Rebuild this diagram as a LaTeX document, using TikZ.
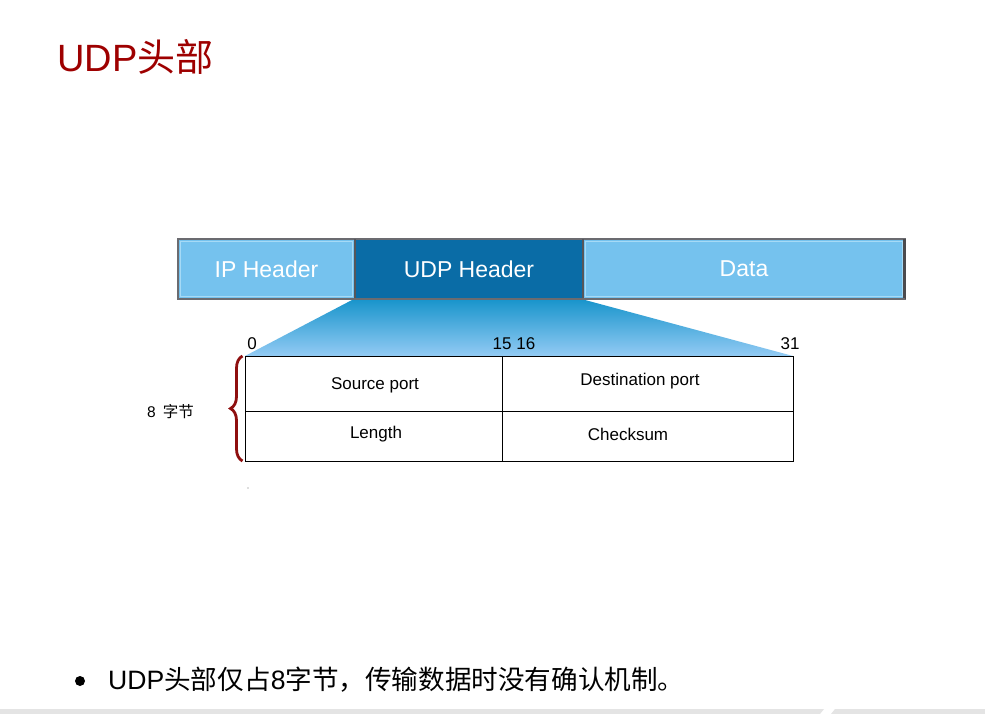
\documentclass[tikz,border=0pt]{standalone}
\usepackage{fontspec}
\setmainfont{Liberation Sans}
\newfontfamily\cjk{Noto Sans CJK SC}
\usetikzlibrary{decorations.pathreplacing}
\definecolor{titlered}{HTML}{9E0000}
\definecolor{lightblue}{HTML}{75C2EE}
\definecolor{darkblue}{HTML}{0A6CA6}
\definecolor{barframe}{HTML}{6B6B70}
\definecolor{highlight}{HTML}{A6DAF6}
\definecolor{zoomtop}{HTML}{1A95CC}
\definecolor{zoombottom}{HTML}{93CBF4}
\definecolor{bracered}{HTML}{8E0F0F}
\definecolor{footgray}{HTML}{E4E4E4}

\begin{document}
\begin{tikzpicture}[x=1pt,y=-1pt,
  field/.style={rectangle, inner sep=0pt, outer sep=0pt, draw=barframe, line width=2pt,
    minimum height=60pt, font=\fontsize{23}{26}\selectfont, text=white},
  cell/.style={rectangle, draw=black, line width=0.9pt, inner sep=0pt, outer sep=0pt},
  celltext/.style={font=\fontsize{17}{20}\selectfont, inner sep=0pt},
  bitno/.style={font=\fontsize{17}{20}\selectfont, inner sep=0pt, anchor=base},
  inset/.style={draw=highlight, line width=1pt},
]
\useasboundingbox (0,0) rectangle (985,714);
\fill[white] (0,0) rectangle (985,714);

% title
\node[anchor=base west, inner sep=0pt, text=titlered, font=\fontsize{38}{42}\selectfont]
  (title) at (57,72) {UDP{\cjk 头部}};

% header layout table
\node[cell, minimum width=257pt, minimum height=55pt] (src) at (373.5,383.5) {};
\node[cell, minimum width=291pt, minimum height=55pt] (dst) at (647.5,383.5) {};
\node[cell, minimum width=257pt, minimum height=50pt] (len) at (373.5,436) {};
\node[cell, minimum width=291pt, minimum height=50pt] (chk) at (647.5,436) {};

% packet bar: header fields
\node[field, fill=lightblue, minimum width=177pt] (ip) at (266.5,269) {IP Header};
\node[field, fill=darkblue, minimum width=228pt] (udp) at (469,269) {UDP Header};
\node[field, fill=lightblue, minimum width=322pt] (data) at (744,269) {Data};

% zoom-out wedge from the UDP header to the table
\shade[top color=zoomtop, bottom color=zoombottom]
  ([xshift=-3pt,yshift=-1pt]udp.south west) -- ([xshift=2pt,yshift=-1pt]udp.south east)
  -- (dst.north east) -- (src.north west) -- cycle;

% bar frame details
\draw[inset] ([shift={(2.5,2.5)}]ip.north west) rectangle ([shift={(-2.5,-2.5)}]ip.south east);
\draw[inset] ([shift={(2.5,2.5)}]data.north west) rectangle ([shift={(-2.5,-2.5)}]data.south east);
\draw[barframe!70!black, line width=2.5pt] ([xshift=-0.5pt]data.north east) -- ([xshift=-0.5pt]data.south east);
\draw[barframe!80!black, line width=2pt] (ip.north east) -- (ip.south east);
\draw[barframe!80!black, line width=1.5pt] (udp.north east) -- (udp.south east);
\draw[barframe, line width=2pt] (ip.south west) -- (data.south east);

% table top edge above the wedge
\draw[black, line width=0.9pt] (src.north west) -- (dst.north east);

% field names
\node[celltext] (srclbl) at (375,385) {Source port};
\node[celltext] (dstlbl) at (640,381) {Destination port};
\node[celltext] (lenlbl) at (376,434) {Length};
\node[celltext] (chklbl) at (628,434) {Checksum};

% bit positions
\node[bitno] (b0) at (252,349) {0};
\node[bitno] (b15) at (514,349) {15 16};
\node[bitno] (b31) at (790,349) {31};

% size brace
\draw[bracered, line width=2.8pt, decorate, decoration={brace, amplitude=12pt}]
  ([xshift=-2.5pt]len.south west) -- ([xshift=-2.5pt]src.north west);
\node[anchor=base west, inner sep=0pt, font=\fontsize{15.5}{18}\selectfont]
  (bytes) at (147,417) {8\hspace{0.45em}{\cjk 字节}};

\node[circle, fill=black!55, minimum size=1.2pt, inner sep=0pt] (speck) at (248,488) {};

% bullet note
\node[circle, fill=black, minimum size=10pt, inner sep=0pt] (dot) at (80,681) {};
\node[anchor=base west, inner sep=0pt, font=\fontsize{26.6}{30}\selectfont]
  (note) at (108,689) {UDP{\cjk 头部仅占}8{\cjk 字节，传输数据时没有确认机制。}};

% footer strip
\fill[footgray] (0,709) -- (824,709) -- (820,714) -- (0,714) -- cycle;
\fill[footgray] (835,709) -- (985,709) -- (985,714) -- (831,714) -- cycle;
\end{tikzpicture}
\end{document}
